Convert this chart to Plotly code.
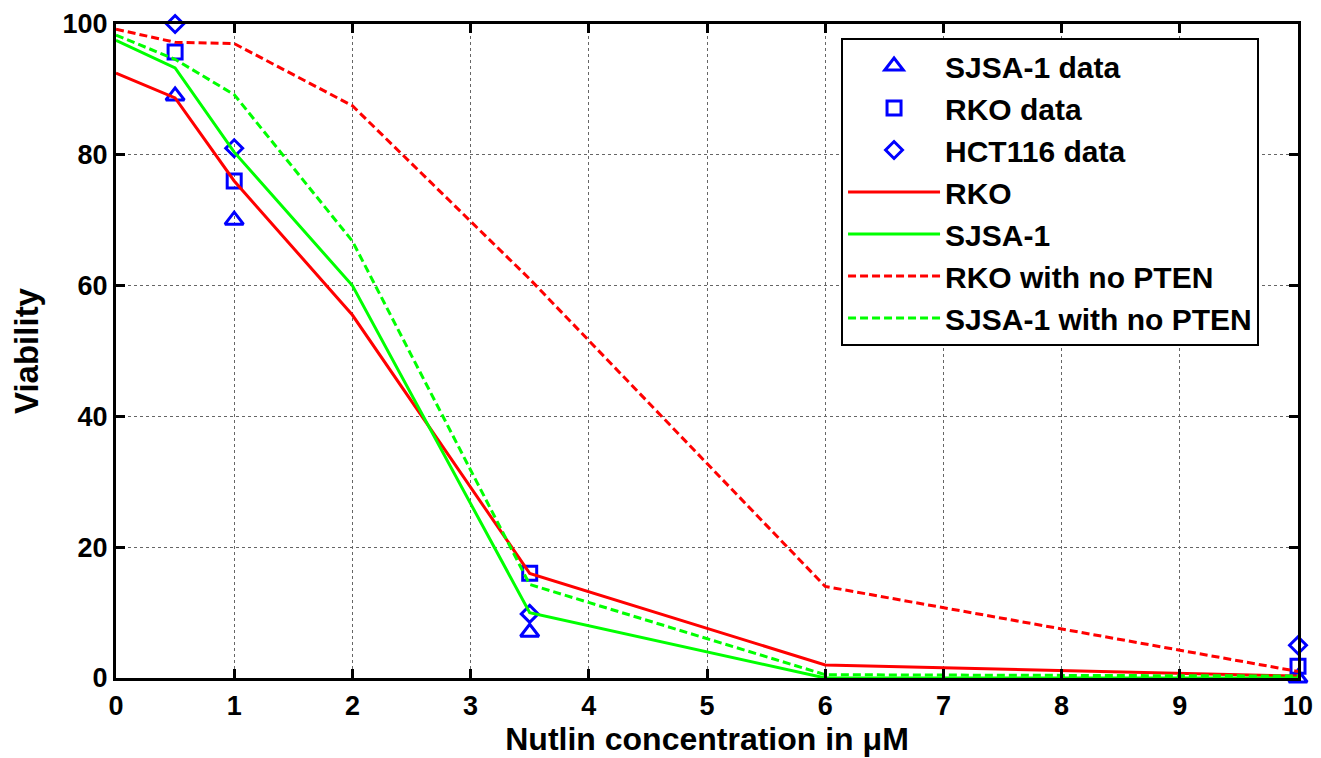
import plotly.graph_objects as go

# Data
data_x = [0.5, 1, 3.5, 10]
sjsa_data = [89, 70, 7, 0]
rko_data = [95.7, 76, 16, 1.8]
hct_data = [100, 81, 9.8, 5]

model_x = [0, 0.5, 1, 2, 3.5, 6, 10]
rko_model = [92.5, 88.7, 76, 55.5, 16, 2, 0.3]
sjsa_model = [97.5, 93.3, 80.4, 60, 10, 0, 0]
rko_nopten = [99.2, 97.2, 97, 87.5, 61, 14, 1]
sjsa_nopten = [98.3, 94.6, 89.2, 66.8, 14.3, 0.5, 0.3]

x_ticks = list(range(0, 11))
y_ticks = [0, 20, 40, 60, 80, 100]

BLUE = "#0000ff"
RED = "#ff0000"
GREEN = "#00ff00"
FONT = "Liberation Sans"

fig = go.Figure()

def add_markers(y, name, symbol, size):
    fig.add_trace(go.Scatter(
        x=data_x, y=y, name=name, mode="markers",
        marker=dict(symbol=symbol, size=size, color=BLUE, line=dict(color=BLUE, width=3)),
        cliponaxis=False))

def add_line(y, name, color, dash):
    fig.add_trace(go.Scatter(
        x=model_x, y=y, name=name, mode="lines",
        line=dict(color=color, width=3, dash=dash), cliponaxis=False))

add_markers(sjsa_data, "SJSA-1 data", "triangle-up-open", 16)
add_markers(rko_data, "RKO data", "square-open", 14)
add_markers(hct_data, "HCT116 data", "diamond-open", 13)
add_line(rko_model, "RKO", RED, "solid")
add_line(sjsa_model, "SJSA-1", GREEN, "solid")
add_line(rko_nopten, "RKO with no PTEN", RED, "8px,4px")
add_line(sjsa_nopten, "SJSA-1 with no PTEN", GREEN, "8px,4px")

axis_common = dict(
    showline=True, linecolor="black", linewidth=3, mirror="ticks",
    ticks="inside", ticklen=9, tickwidth=3, tickcolor="black",
    showgrid=True, gridcolor="#666666", griddash="dot", gridwidth=1,
    zeroline=False, automargin=False, ticklabeloverflow="allow",
    tickfont=dict(family=FONT, size=27, color="black", weight="bold"),
)

fig.update_xaxes(range=[0, 10], tickvals=x_ticks, ticklabelstandoff=2,
                 title=dict(text="Nutlin concentration in μM", standoff=8,
                            font=dict(family=FONT, size=32, color="black", weight="bold")),
                 **axis_common)
fig.update_yaxes(range=[0, 100], tickvals=y_ticks,
                 title=dict(text="Viability", standoff=14,
                            font=dict(family=FONT, size=33, color="black", weight="bold")),
                 **axis_common)

fig.update_layout(
    width=1321, height=758,
    margin=dict(l=116, r=23, t=24, b=80),
    plot_bgcolor="white", paper_bgcolor="white",
    showlegend=True,
    legend=dict(
        x=0.6134, y=0.9786, xanchor="left", yanchor="top",
        bgcolor="white", bordercolor="black", borderwidth=2,
        font=dict(family=FONT, size=30, color="black", weight="bold"),
        itemwidth=92,
    ),
)

fig.write_html("out.html",
               config={"displayModeBar": False},
               post_script="document.body.style.margin='0';document.body.style.overflow='hidden';")
